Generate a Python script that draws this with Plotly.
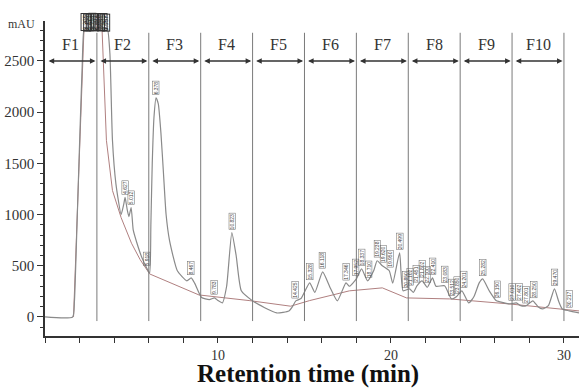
import plotly.graph_objects as go

# ---- data ----
sig_t = [0, 1.6, 1.7, 1.85, 2.0, 2.15, 2.25, 2.4, 2.6, 2.8, 3.0, 3.2, 3.4, 3.6, 3.75, 3.9, 4.1, 4.4,
         4.55, 4.63, 4.75, 4.85, 4.98, 5.1, 5.3, 5.6, 5.9, 6.05, 6.12, 6.2, 6.3, 6.42, 6.55, 6.7,
         6.85, 7.0, 7.2, 7.65, 8.2, 8.45, 8.65, 9.05, 9.5, 9.8, 10.0, 10.25, 10.5, 10.8, 11.05, 11.35, 12.0,
         12.7, 13.4, 14.1, 14.3, 14.5, 14.8, 15.3, 15.6, 16.05, 16.5, 16.9, 17.4, 17.6, 18.0, 18.3,
         18.65, 19.0, 19.2, 19.5, 19.9, 20.1, 20.5, 20.7, 21.07, 21.3, 21.5, 21.8, 22.1, 22.4, 22.6,
         23.1, 23.5, 23.8, 24.1, 24.5, 24.8, 25.1, 25.3, 25.7, 26.1, 26.5, 26.85, 27.25, 27.5, 27.8,
         28.2, 28.5, 28.75, 29.1, 29.45, 29.7, 29.9, 30.3, 30.87]
sig_v = [0, 0, 150, 900, 1700, 2450, 2800, 2830, 2790, 2840, 2800, 2850, 2810, 2820, 2578, 1725, 1300, 1000,
         1100, 1167, 1050, 980, 1069, 850, 730, 580, 470, 430, 900, 1500, 1950, 2140, 2080, 1800,
         1400, 1000, 745, 451, 353, 382, 330, 190, 170, 186, 160, 137, 300, 824, 600, 255, 157,
         90, 39, 59, 100, 157, 180, 333, 240, 441, 280, 157, 333, 300, 372, 470,
         353, 450, 549, 500, 451, 330, 627, 255, 274, 240, 304, 353, 290, 382, 300,
         304, 176, 200, 255, 137, 200, 333, 372, 250, 157, 140, 127, 137, 110, 108,
         157, 100, 78, 110, 274, 150, 78, 60, 39]

base_t = [1.65, 2.25, None, 3.3, 3.55, 3.9, 4.4, 5.0, 5.5, 6.05, 8.9, 11.8, 14.2, 15.3, 17.6, 19.5,
          20.9, 23.4, 26.85, 30.87]
base_v = [0, 2790, None, 2800, 1725, 1235, 970, 720, 560, 420, 215, 160, 105, 160, 255, 284,
          186, 176, 127, 59]

fractions = ["F1", "F2", "F3", "F4", "F5", "F6", "F7", "F8", "F9", "F10"]
frac_bounds = [0, 3, 6, 9, 12, 15, 18, 21, 24, 27, 30]

peak_t = [4.63, 4.98, 5.9, 6.42, 8.45, 9.8, 10.8, 14.45, 15.3, 16.05, 17.4, 17.95, 18.3, 18.7,
          19.2, 19.55, 19.95, 20.5, 20.85, 21.1, 21.45, 21.8, 22.1, 22.4, 23.1, 23.5, 23.85, 24.2,
          25.3, 26.15, 27.0, 27.4, 27.8, 28.25, 29.45, 30.3]
peak_v = [1167, 1069, 470, 2140, 382, 186, 824, 157, 333, 441, 333, 372, 470, 353,
          549, 500, 451, 627, 255, 274, 304, 353, 300, 382, 304, 176, 200, 255,
          372, 157, 127, 137, 108, 157, 274, 60]
peak_lbl = ["4.627", "5.012", "5.918", "6.378", "8.467", "9.783", "10.823", "14.425", "15.328",
            "16.118", "17.346", "17.952", "18.337", "18.710", "19.238", "19.620", "19.950",
            "20.499", "20.850", "21.102", "21.451", "21.802", "22.100", "22.410", "23.083",
            "23.512", "23.850", "24.201", "25.282", "26.150", "27.010", "27.402", "27.801",
            "28.250", "29.470", "30.217"]
top_t = [2.3, 2.45, 2.6, 2.75, 2.9, 3.05, 3.25, 3.4, 3.55]
top_lbl = ["2.305", "2.458", "2.612", "2.751", "2.903", "3.058", "3.251", "3.402", "3.557"]

x_ticks = [10, 20, 30]
y_ticks = [0, 500, 1000, 1500, 2000, 2500]

fig = go.Figure()
fig.add_trace(go.Scatter(x=base_t, y=base_v, mode="lines",
                         line=dict(color="#b08080", width=1), hoverinfo="skip", showlegend=False))
fig.add_trace(go.Scatter(x=sig_t, y=sig_v, mode="lines",
                         line=dict(color="#8a8a8a", width=1.2, shape="spline", smoothing=0.5),
                         hoverinfo="skip", showlegend=False))

shapes = []
for b in frac_bounds[1:]:
    shapes.append(dict(type="line", xref="x", yref="y", x0=b, x1=b, y0=-40, y1=2775,
                       line=dict(color="#7a7a7a", width=1)))
fig.update_layout(shapes=shapes)

ann = []
for i, name in enumerate(fractions):
    a, b = frac_bounds[i], frac_bounds[i + 1]
    x0 = a + 0.12
    x1 = b - 0.08
    ann.append(dict(x=x1, y=2500, ax=x0, ay=2500, xref="x", yref="y", axref="x", ayref="y",
                    showarrow=True, arrowhead=2, arrowside="end+start", arrowsize=0.8,
                    arrowwidth=1.4, arrowcolor="#333333", text=""))
    ann.append(dict(x=(a + b) / 2, y=2660, xref="x", yref="y", text=name, showarrow=False,
                    font=dict(family="Liberation Serif", size=16, color="#333333")))

for t, v, s in zip(peak_t, peak_v, peak_lbl):
    ann.append(dict(x=t, y=v, xref="x", yref="y", text=s, showarrow=False, textangle=-90,
                    yanchor="bottom", yshift=3, font=dict(family="Liberation Sans", size=5, color="#444444"),
                    bordercolor="#666666", borderwidth=0.5, borderpad=0))
for t, s in zip(top_t, top_lbl):
    ann.append(dict(x=t, y=2790, xref="x", yref="y", text=s, showarrow=False, textangle=-90,
                    yanchor="bottom", font=dict(family="Liberation Sans", size=6, color="#222222"),
                    bordercolor="#333333", borderwidth=1, borderpad=0))
ann.append(dict(x=0, y=1, xref="paper", yref="paper", text="mAU", showarrow=False,
                xanchor="right", yanchor="middle", xshift=-8, yshift=-3,
                font=dict(family="Liberation Serif", size=12, color="#333333")))
ann.append(dict(x=0.4934, y=-0.1206, xref="paper", yref="paper", text="<b>Retention time (min)</b>",
                showarrow=False, xanchor="center", yanchor="middle",
                font=dict(family="Liberation Serif", size=25, color="#111111")))
fig.update_layout(annotations=ann)

fig.update_layout(
    width=579, height=388,
    margin=dict(l=45, r=0, t=21, b=52),
    paper_bgcolor="white", plot_bgcolor="white",
    xaxis=dict(range=[0, 30.87], tickvals=x_ticks, ticktext=[str(v) for v in x_ticks],
               automargin=False,
               ticks="outside", ticklen=5, tickcolor="#333333", showgrid=False, zeroline=False,
               showline=True, linecolor="#333333", linewidth=1.5,
               minor=dict(dtick=2, tick0=0, ticks="outside", ticklen=5, tickcolor="#333333"),
               tickfont=dict(family="Liberation Serif", size=14, color="#333333")),
    yaxis=dict(range=[-186, 2890], tickvals=y_ticks, ticks="outside", ticklen=6,
               automargin=False,
               tickcolor="#333333", showgrid=False, zeroline=False,
               showline=True, linecolor="#333333", linewidth=1.5,
               minor=dict(dtick=100, tick0=0, ticks="outside", ticklen=3, tickcolor="#333333"),
               tickfont=dict(family="Liberation Serif", size=15, color="#333333")),
)

fig.write_html("out.html", config={"displayModeBar": False},
               post_script="document.body.style.margin='0';document.body.style.overflow='hidden';")
